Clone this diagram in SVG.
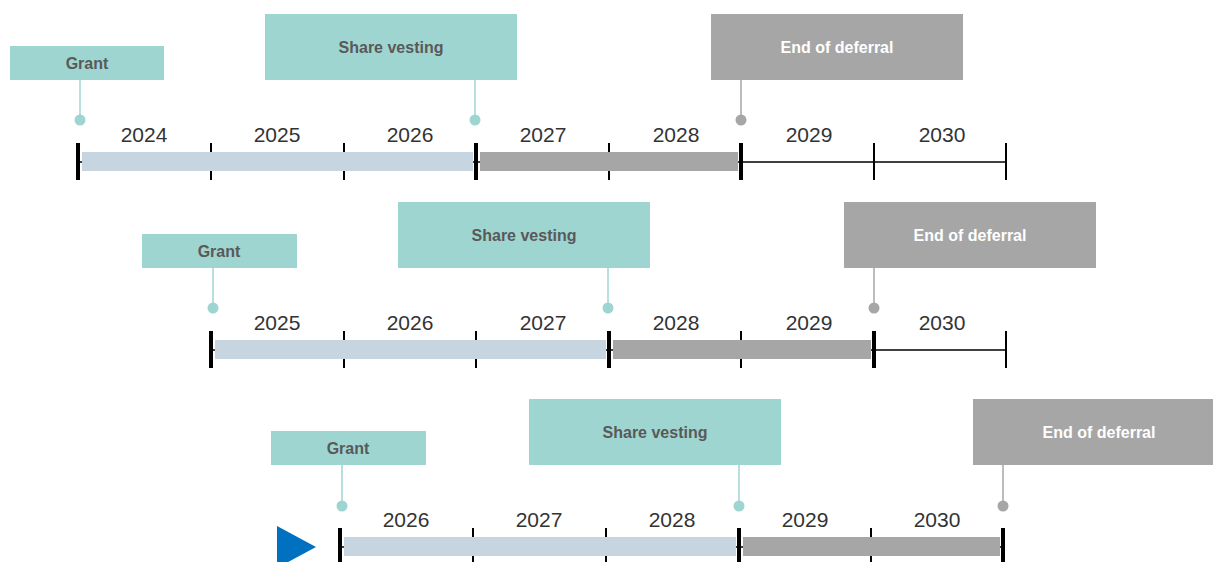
<svg xmlns="http://www.w3.org/2000/svg" width="1213" height="562" viewBox="0 0 1213 562">
<style>
.bt{fill:#9FD5D1}
.bg{fill:#A6A6A6}
.lt{font-family:"Liberation Sans",Arial,sans-serif;font-weight:bold;font-size:16px;text-anchor:middle;dominant-baseline:central}
.dk{fill:#595959}
.wh{fill:#FFFFFF}
.yr{font-family:"Liberation Sans",Arial,sans-serif;font-size:21px;fill:#333333;text-anchor:middle}
.st{stroke:#9FD5D1;stroke-width:1.5}
.sg{stroke:#A6A6A6;stroke-width:1.5}
.ax{stroke:#000;stroke-width:1.5}
.tn{stroke:#000;stroke-width:2}
.tk{stroke:#000;stroke-width:4}
.bl{fill:#C6D5DF}
</style>
<g id="connectors">
<line class="st" x1="80" y1="80" x2="80" y2="120"/><circle cx="80" cy="120" r="5.5" fill="#9FD5D1"/>
<line class="st" x1="475" y1="80" x2="475" y2="120"/><circle cx="475" cy="120" r="5.5" fill="#9FD5D1"/>
<line class="sg" x1="741" y1="80" x2="741" y2="120"/><circle cx="741" cy="120" r="5.5" fill="#A6A6A6"/>
<line class="st" x1="213" y1="268" x2="213" y2="308"/><circle cx="213" cy="308" r="5.5" fill="#9FD5D1"/>
<line class="st" x1="608" y1="268" x2="608" y2="308"/><circle cx="608" cy="308" r="5.5" fill="#9FD5D1"/>
<line class="sg" x1="874" y1="268" x2="874" y2="308"/><circle cx="874" cy="308" r="5.5" fill="#A6A6A6"/>
<line class="st" x1="342" y1="465" x2="342" y2="506"/><circle cx="342" cy="506" r="5.5" fill="#9FD5D1"/>
<line class="st" x1="739" y1="465" x2="739" y2="506"/><circle cx="739" cy="506" r="5.5" fill="#9FD5D1"/>
<line class="sg" x1="1003" y1="465" x2="1003" y2="506"/><circle cx="1003" cy="506" r="5.5" fill="#A6A6A6"/>
</g>
<g id="timeline1">
<line class="ax" x1="78" y1="162" x2="1006" y2="162"/>
<line class="tk" x1="78" y1="143" x2="78" y2="180"/>
<line class="tn" x1="211" y1="143" x2="211" y2="180"/>
<line class="tn" x1="344" y1="143" x2="344" y2="180"/>
<line class="tk" x1="476" y1="143" x2="476" y2="180"/>
<line class="tn" x1="609" y1="143" x2="609" y2="180"/>
<line class="tk" x1="741" y1="143" x2="741" y2="180"/>
<line class="tn" x1="874" y1="143" x2="874" y2="180"/>
<line class="tn" x1="1006" y1="143" x2="1006" y2="180"/>
<rect class="bl" x="82" y="152" width="391" height="19"/>
<rect class="bg" x="480" y="152" width="258" height="19"/>
<text class="yr" x="144" y="142">2024</text>
<text class="yr" x="277" y="142">2025</text>
<text class="yr" x="410" y="142">2026</text>
<text class="yr" x="543" y="142">2027</text>
<text class="yr" x="676" y="142">2028</text>
<text class="yr" x="809" y="142">2029</text>
<text class="yr" x="942" y="142">2030</text>
</g>
<g id="timeline2">
<line class="ax" x1="211" y1="350" x2="1006" y2="350"/>
<line class="tk" x1="211" y1="331" x2="211" y2="368"/>
<line class="tn" x1="344" y1="331" x2="344" y2="368"/>
<line class="tn" x1="476" y1="331" x2="476" y2="368"/>
<line class="tk" x1="609" y1="331" x2="609" y2="368"/>
<line class="tn" x1="741" y1="331" x2="741" y2="368"/>
<line class="tk" x1="874" y1="331" x2="874" y2="368"/>
<line class="tn" x1="1006" y1="331" x2="1006" y2="368"/>
<rect class="bl" x="215" y="340" width="391" height="19"/>
<rect class="bg" x="613" y="340" width="258" height="19"/>
<text class="yr" x="277" y="330">2025</text>
<text class="yr" x="410" y="330">2026</text>
<text class="yr" x="543" y="330">2027</text>
<text class="yr" x="676" y="330">2028</text>
<text class="yr" x="809" y="330">2029</text>
<text class="yr" x="942" y="330">2030</text>
</g>
<g id="timeline3">
<line class="ax" x1="340" y1="547" x2="1003" y2="547"/>
<line class="tk" x1="340" y1="528" x2="340" y2="566"/>
<line class="tn" x1="473" y1="528" x2="473" y2="566"/>
<line class="tn" x1="606" y1="528" x2="606" y2="566"/>
<line class="tk" x1="739" y1="528" x2="739" y2="566"/>
<line class="tn" x1="871" y1="528" x2="871" y2="566"/>
<line class="tk" x1="1003" y1="528" x2="1003" y2="566"/>
<rect class="bl" x="344" y="537" width="392" height="19"/>
<rect class="bg" x="743" y="537" width="257" height="19"/>
<text class="yr" x="406" y="527">2026</text>
<text class="yr" x="539" y="527">2027</text>
<text class="yr" x="672" y="527">2028</text>
<text class="yr" x="805" y="527">2029</text>
<text class="yr" x="937" y="527">2030</text>
<polygon points="277,526 277,568 316,547" fill="#0070C0"/>
</g>
<g id="grant1"><rect class="bt" x="10" y="46" width="154" height="34"/><text class="lt dk" x="87" y="63">Grant</text></g>
<g id="vesting1"><rect class="bt" x="265" y="14" width="252" height="66"/><text class="lt dk" x="391" y="47">Share vesting</text></g>
<g id="deferral1"><rect class="bg" x="711" y="14" width="252" height="66"/><text class="lt wh" x="837" y="47">End of deferral</text></g>
<g id="grant2"><rect class="bt" x="142" y="234" width="155" height="34"/><text class="lt dk" x="219" y="251">Grant</text></g>
<g id="vesting2"><rect class="bt" x="398" y="202" width="252" height="66"/><text class="lt dk" x="524" y="235">Share vesting</text></g>
<g id="deferral2"><rect class="bg" x="844" y="202" width="252" height="66"/><text class="lt wh" x="970" y="235">End of deferral</text></g>
<g id="grant3"><rect class="bt" x="271" y="431" width="155" height="34"/><text class="lt dk" x="348" y="448">Grant</text></g>
<g id="vesting3"><rect class="bt" x="529" y="399" width="252" height="66"/><text class="lt dk" x="655" y="432">Share vesting</text></g>
<g id="deferral3"><rect class="bg" x="973" y="399" width="252" height="66"/><text class="lt wh" x="1099" y="432">End of deferral</text></g>
</svg>
